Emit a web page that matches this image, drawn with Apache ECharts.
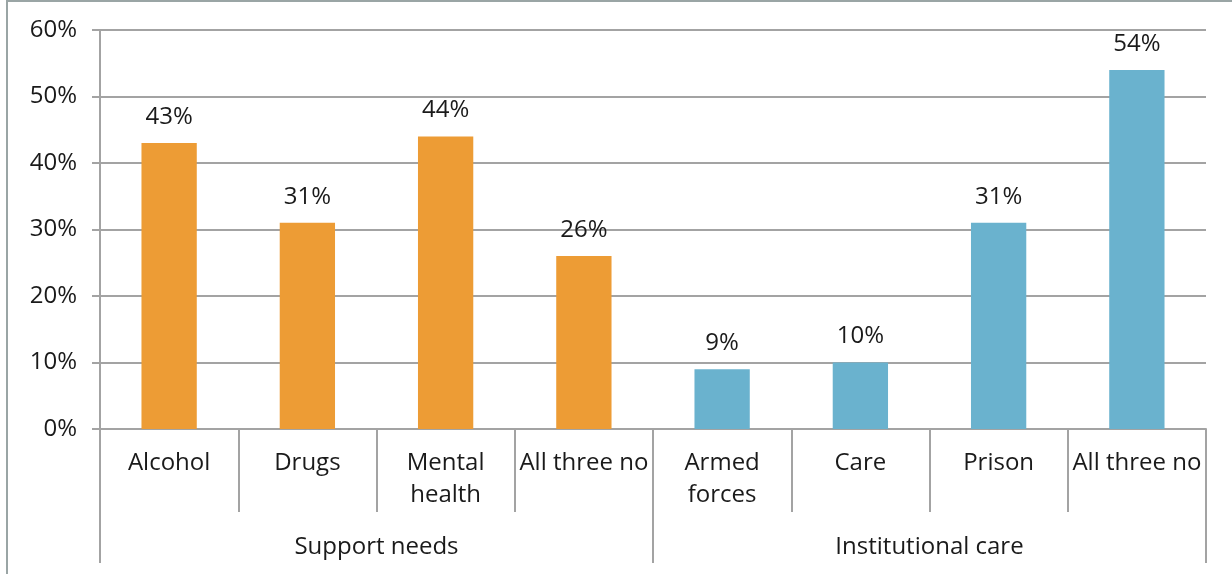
<!DOCTYPE html>
<html>
<head>
<meta charset="utf-8">
<title>Support needs and institutional care</title>
<script src="https://cdn.jsdelivr.net/npm/echarts@6/dist/echarts.min.js"></script>
<style>
    html, body { margin: 0; padding: 0; background: #fff; }
    #chart { width: 1232px; height: 574px; }
</style>
</head>
<body>
<div id="chart"></div>
<script>
// 数据
var categories = ['Alcohol', 'Drugs', 'Mental\nhealth', 'All three no', 'Armed\nforces', 'Care', 'Prison', 'All three no'];
var values = [43, 31, 44, 26, 9, 10, 31, 54];
var groupNames = ['Support needs', 'Institutional care'];
var groupSizes = [4, 4];
var yTicks = [0, 10, 20, 30, 40, 50, 60];

var groupColors = ['#ED9C35', '#6AB2CE'];
var fontName = 'Open Sans';
var fontSize = 24;

/**
 * 按分组给每根柱子上色
 */
function buildBarData () {
    var list = [];
    var g = 0, used = 0;
    for (var i = 0; i < values.length; i++) {
        if (used >= groupSizes[g]) {
            g++;
            used = 0;
        }
        list.push({ value: values[i], itemStyle: { color: groupColors[g] } });
        used++;
    }
    return list;
}

function drawChart (target) {
    var chart = echarts.init(document.getElementById(target));
    var lineColor = '#a3a3a3';
    var option = {
        animation: false,
        textStyle: { fontFamily: fontName },
        grid: {
            left: 100,
            right: 26,
            top: 30,
            bottom: 145
        },
        graphic: [
            { type: 'line', shape: { x1: 7, y1: 0, x2: 7, y2: 574 }, style: { stroke: '#9aa5a5', lineWidth: 2 } },
            { type: 'line', shape: { x1: 7, y1: 1, x2: 1232, y2: 1 }, style: { stroke: '#9aa5a5', lineWidth: 2 } }
        ],
        xAxis: [
            {
                type: 'category',
                data: categories,
                axisLine: { lineStyle: { color: lineColor, width: 2 } },
                axisTick: { show: true, interval: 0, length: 83, lineStyle: { color: lineColor, width: 2 } },
                axisLabel: {
                    interval: 0,
                    margin: 18,
                    fontSize: fontSize,
                    lineHeight: 32,
                    color: '#1a1a1a',
                    fontFamily: fontName
                }
            },
            {
                type: 'category',
                position: 'bottom',
                data: groupNames,
                axisLine: { show: false },
                axisTick: { show: true, interval: 0, length: 134, lineStyle: { color: lineColor, width: 2 } },
                axisLabel: {
                    interval: 0,
                    margin: 102,
                    fontSize: fontSize,
                    lineHeight: 32,
                    color: '#1a1a1a',
                    fontFamily: fontName
                }
            }
        ],
        yAxis: {
            type: 'value',
            min: yTicks[0],
            max: yTicks[yTicks.length - 1],
            interval: yTicks[1] - yTicks[0],
            axisLine: { show: true, lineStyle: { color: lineColor, width: 2 } },
            axisTick: { show: true, length: 8, lineStyle: { color: lineColor, width: 2 } },
            splitLine: { show: true, lineStyle: { color: lineColor, width: 2 } },
            axisLabel: {
                margin: 23,
                fontSize: fontSize,
                color: '#1a1a1a',
                fontFamily: fontName,
                formatter: '{value}%'
            }
        },
        series: [
            {
                type: 'bar',
                xAxisIndex: 0,
                barWidth: '40%',
                data: buildBarData(),
                label: {
                    show: true,
                    position: 'top',
                    distance: 14,
                    fontSize: fontSize,
                    color: '#1a1a1a',
                    fontFamily: fontName,
                    formatter: '{c}%'
                }
            }
        ]
    };
    chart.setOption(option);
}

drawChart('chart');
</script>
</body>
</html>
